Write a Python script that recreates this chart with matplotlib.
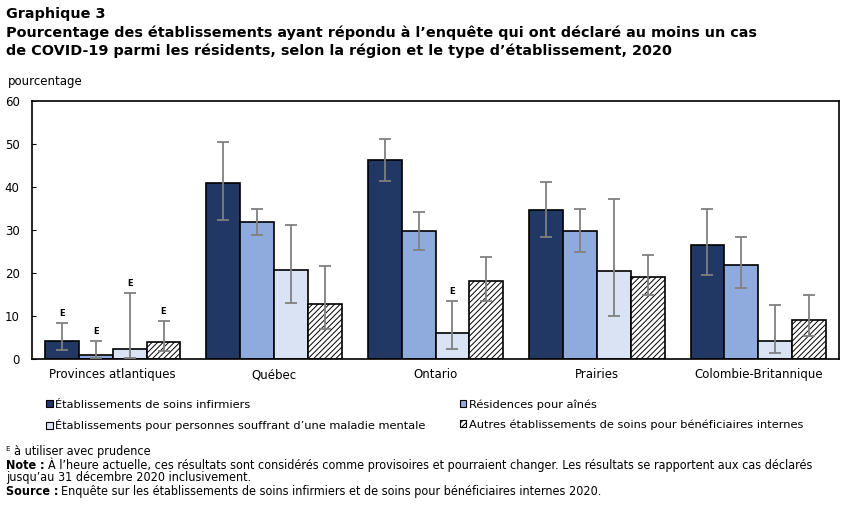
import numpy as np
import matplotlib.pyplot as plt
from matplotlib.patches import Patch

plt.rcParams['font.family'] = ['DejaVu Sans']
plt.rcParams['hatch.linewidth'] = 0.7

regions = ["Provinces atlantiques", "Québec", "Ontario", "Prairies", "Colombie-Britannique"]
series = ["Établissements de soins infirmiers",
          "Résidences pour aînés",
          "Établissements pour personnes souffrant d\u2019une maladie mentale",
          "Autres établissements de soins pour bénéficiaires internes"]

# values, lower and upper bounds of the confidence interval
nursing = [4.1, 40.9, 46.2, 34.6, 26.4]
nursing_lo = [2.0, 32.3, 41.3, 28.3, 19.5]
nursing_hi = [8.3, 50.4, 51.1, 41.1, 34.8]

seniors = [0.9, 31.8, 29.7, 29.7, 21.8]
seniors_lo = [0.15, 28.8, 25.3, 25.0, 16.4]
seniors_hi = [4.1, 35.0, 34.3, 34.8, 28.3]

mental = [2.25, 20.6, 6.0, 20.4, 4.1]
mental_lo = [0.2, 13.0, 2.3, 10.0, 1.4]
mental_hi = [15.3, 31.1, 13.4, 37.1, 12.5]

other = [3.9, 12.7, 18.1, 19.0, 9.0]
other_lo = [1.9, 7.0, 13.6, 15.0, 5.3]
other_hi = [8.8, 21.6, 23.7, 24.1, 14.8]

# "E" flag (use with caution)
nursing_e = [True, False, False, False, False]
seniors_e = [True, False, False, False, False]
mental_e = [True, False, True, False, False]
other_e = [True, False, False, False, False]

colors = ["#213764", "#8FAADC", "#DAE3F3", "white"]
hatches = [None, None, None, "//////"]

fig = plt.figure(figsize=(8.51, 5.11), dpi=100)
ax = fig.add_axes([32 / 851, 1 - 359 / 511, 807 / 851, 258 / 511])

x = np.arange(len(regions))
w = 0.21
data = [(nursing, nursing_lo, nursing_hi, nursing_e),
        (seniors, seniors_lo, seniors_hi, seniors_e),
        (mental, mental_lo, mental_hi, mental_e),
        (other, other_lo, other_hi, other_e)]

for i, (vals, lo, hi, flags) in enumerate(data):
    pos = x + (i - 1.5) * w
    vals = np.array(vals)
    yerr = [vals - np.array(lo), np.array(hi) - vals]
    ax.bar(pos, vals, w, color=colors[i], edgecolor="black", linewidth=1.2,
           hatch=hatches[i], zorder=2)
    ax.errorbar(pos, vals, yerr=yerr, fmt="none", ecolor="#808080",
                elinewidth=1.3, capsize=4, capthick=1.3, zorder=3)
    for p, h, f in zip(pos, hi, flags):
        if f:
            ax.text(p, h + 1.3, "E", ha="center", va="bottom", fontsize=6,
                    fontweight="bold")

ax.set_xlim(-0.5, len(regions) - 0.5)
ax.set_ylim(0, 60)
ax.set_yticks(range(0, 61, 10))
ax.set_xticks(x)
ax.set_xticklabels(regions, fontsize=8.5)
ax.tick_params(axis="y", direction="in", length=3, pad=9, labelsize=8.5)
ax.tick_params(axis="x", length=0, pad=6.5)
for s in ax.spines.values():
    s.set_linewidth(1.2)

fig.text(8 / 851, 1 - 82 / 511, "pourcentage", fontsize=8.5, va="center")

fig.text(6 / 851, 1 - 14 / 511, "Graphique 3", fontsize=10.4, fontweight="bold", va="center")
fig.text(6 / 851, 1 - 33 / 511,
         "Pourcentage des établissements ayant répondu à l\u2019enquête qui ont déclaré au moins un cas",
         fontsize=10.4, fontweight="bold", va="center")
fig.text(6 / 851, 1 - 51 / 511,
         "de COVID-19 parmi les résidents, selon la région et le type d\u2019établissement, 2020",
         fontsize=10.4, fontweight="bold", va="center")

handles = [Patch(facecolor=colors[i], edgecolor="black", hatch=hatches[i], linewidth=0.8)
           for i in range(4)]
order = [0, 2, 1, 3]
fig.legend([handles[i] for i in order], [series[i] for i in order], ncol=2,
           loc="upper left", bbox_to_anchor=(46 / 851, 1 - 399 / 511), frameon=False,
           fontsize=8.2, handlelength=0.6, handleheight=0.6, handletextpad=0.2,
           columnspacing=3.0, labelspacing=0.85, borderaxespad=0, borderpad=0)

# footnotes: bold label followed by regular text
foot = dict(fontsize=9, va="center", family="DejaVu Sans", stretch="condensed")
renderer = fig.canvas.get_renderer()


def note_line(y, label, body):
    t = fig.text(6 / 851, 1 - y / 511, label, fontweight="bold", **foot)
    x1 = t.get_window_extent(renderer).x1
    fig.text((x1 + 3) / 851, 1 - y / 511, body, **foot)


fig.text(6 / 851, 1 - 451 / 511, "\u1d31 à utiliser avec prudence", **foot)
note_line(465, "Note :", "À l\u2019heure actuelle, ces résultats sont considérés comme provisoires "
          "et pourraient changer. Les résultats se rapportent aux cas déclarés")
fig.text(6 / 851, 1 - 478 / 511, "jusqu\u2019au 31 décembre 2020 inclusivement.", **foot)
note_line(491, "Source :", "Enquête sur les établissements de soins infirmiers et de soins pour "
          "bénéficiaires internes 2020.")

fig.savefig("out.png", dpi=100)
